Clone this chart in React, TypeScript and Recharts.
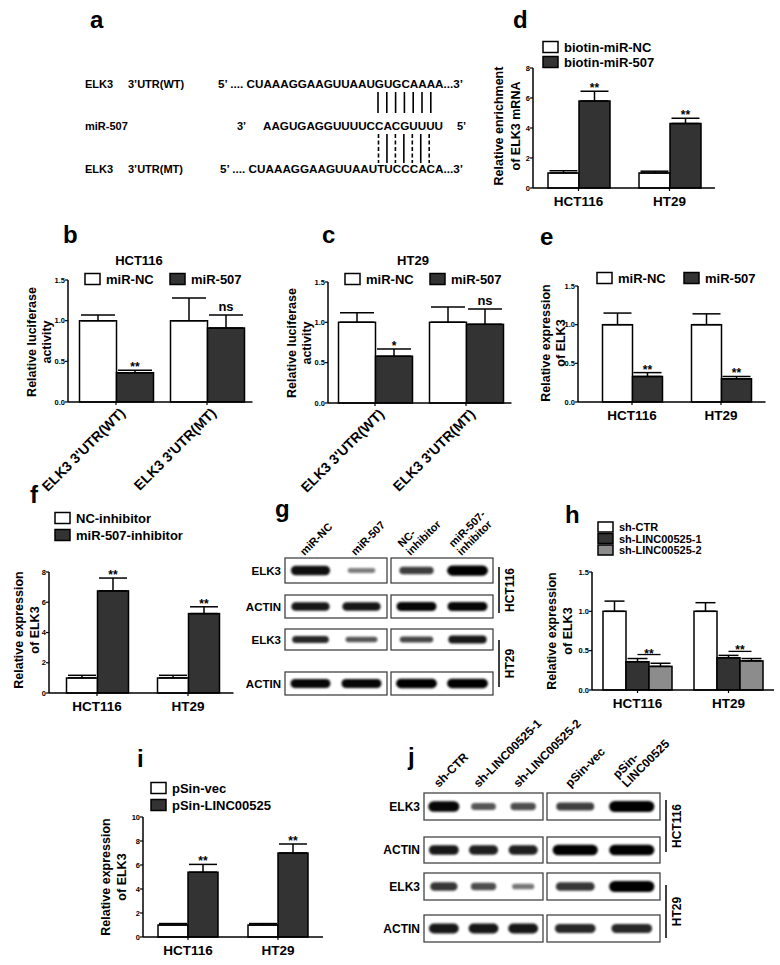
import React from "react";
import { BarChart, Bar, XAxis, YAxis, ErrorBar } from "recharts";

const FONT = "'Liberation Sans', Arial, Helvetica, sans-serif";
const WHITE = "#ffffff";
const DARK = "#333333";
const GREY = "#8c8c8c";

const cellLines = ["HCT116", "HT29"];
const reporters = ["ELK3 3'UTR(WT)", "ELK3 3'UTR(MT)"];

// b: luciferase, HCT116
const lucHctNC = [1.0, 1.0];
const lucHctNCErr = [0.07, 0.28];
const lucHct507 = [0.36, 0.91];
const lucHct507Err = [0.03, 0.16];
const lucHctSig = ["**", "ns"];

// c: luciferase, HT29
const lucHtNC = [1.0, 1.0];
const lucHtNCErr = [0.12, 0.19];
const lucHt507 = [0.58, 0.975];
const lucHt507Err = [0.09, 0.19];
const lucHtSig = ["*", "ns"];

// d: biotin pull-down
const enrichNC = [1.0, 1.0];
const enrichNCErr = [0.15, 0.12];
const enrich507 = [5.8, 4.3];
const enrich507Err = [0.65, 0.35];
const enrichSig = ["**", "**"];

// e: miR-507 mimic
const exprNC = [1.0, 1.0];
const exprNCErr = [0.15, 0.14];
const expr507 = [0.33, 0.3];
const expr507Err = [0.05, 0.03];
const exprSig = ["**", "**"];

// f: inhibitor
const inhNC = [1.0, 1.0];
const inhNCErr = [0.17, 0.17];
const inh507 = [6.75, 5.25];
const inh507Err = [0.85, 0.45];
const inhSig = ["**", "**"];

// h: knockdown
const shCtr = [1.0, 1.0];
const shCtrErr = [0.13, 0.11];
const sh1 = [0.36, 0.41];
const sh1Err = [0.04, 0.03];
const sh2 = [0.3, 0.37];
const sh2Err = [0.04, 0.03];
const shSig = ["**", "**"];

// i: overexpression
const vecVals = [1.0, 1.0];
const vecErr = [0.12, 0.12];
const lincVals = [5.4, 7.0];
const lincErr = [0.65, 0.75];
const lincSig = ["**", "**"];

// blots (relative band strength 0..1)
const gLanes = [["miR-NC"], ["miR-507"], ["NC-", "inhibitor"], ["miR-507-", "inhibitor"]];
const gRows = ["ELK3", "ACTIN", "ELK3", "ACTIN"];
const gBands = [
  [0.9, 0.2, 0.6, 1.0],
  [0.85, 0.85, 0.95, 0.95],
  [0.75, 0.45, 0.55, 0.85],
  [0.95, 0.95, 1.0, 1.0],
];
const jLanes = [["sh-CTR"], ["sh-LINC00525-1"], ["sh-LINC00525-2"], ["pSin-vec"], ["pSin-", "LINC00525"]];
const jRows = ["ELK3", "ACTIN", "ELK3", "ACTIN"];
const jBands = [
  [0.95, 0.45, 0.5, 0.6, 1.0],
  [0.85, 0.8, 0.8, 1.0, 1.0],
  [0.65, 0.5, 0.25, 0.65, 1.0],
  [0.85, 0.85, 0.85, 0.75, 0.75],
];

const build = (cats: string[], vals: number[][], errs: number[][], sig: string[]) =>
  cats.map((cat, i) => {
    const row: any = { cat, sig: sig[i] };
    vals.forEach((v, k) => {
      row["v" + k] = v[i];
      row["e" + k] = [0, errs[k][i]];
    });
    return row;
  });

const dataB = build(reporters, [lucHctNC, lucHct507], [lucHctNCErr, lucHct507Err], lucHctSig);
const dataC = build(reporters, [lucHtNC, lucHt507], [lucHtNCErr, lucHt507Err], lucHtSig);
const dataD = build(cellLines, [enrichNC, enrich507], [enrichNCErr, enrich507Err], enrichSig);
const dataE = build(cellLines, [exprNC, expr507], [exprNCErr, expr507Err], exprSig);
const dataF = build(cellLines, [inhNC, inh507], [inhNCErr, inh507Err], inhSig);
const dataH = build(cellLines, [shCtr, sh1, sh2], [shCtrErr, sh1Err, sh2Err], shSig);
const dataI = build(cellLines, [vecVals, lincVals], [vecErr, lincErr], lincSig);

type PanelProps = {
  data: any[];
  fills: string[];
  x0: number;
  pad: number;
  band: number;
  yTop: number;
  y0: number;
  max: number;
  ticks: number[];
  dec: number;
  barSize: number;
  angled?: boolean;
  bracket?: boolean;
};

const FlatTick = ({ x, y, payload }: any) => (
  <text x={x} y={y + 15} textAnchor="middle" fontSize={13.5} fontWeight="bold" fontFamily={FONT} fill="#000">
    {payload.value}
  </text>
);

const AngledTick = ({ x, y, payload }: any) => (
  <text
    x={x + 10}
    y={y + 9}
    textAnchor="end"
    transform={`rotate(-45, ${x + 10}, ${y + 9})`}
    fontSize={14}
    fontWeight="bold"
    fontFamily={FONT}
    fill="#000"
  >
    {payload.value}
  </text>
);

function BarPanel(p: PanelProps) {
  const yw = 40;
  const mt = 14;
  const mr = 8;
  const xh = p.angled ? 110 : 30;
  const plotH = p.y0 - p.yTop;
  const plotW = p.pad + p.band * p.data.length;
  const last = p.fills.length - 1;

  const sigShape = (props: any) => {
    const { x, y, width, height, payload, fill } = props;
    const val = payload["v" + last];
    const ppu = height / val;
    const base = y + height;
    let mark = null;
    if (p.bracket) {
      const prevTop = payload["v" + (last - 1)] + payload["e" + (last - 1)][1];
      const lastTop = val + payload["e" + last][1];
      const ly = base - Math.max(prevTop, lastTop) * ppu - 4;
      mark = (
        <g>
          <line x1={x - width / 2} x2={x + width / 2} y1={ly} y2={ly} stroke="#000" strokeWidth={1.3} />
          <text x={x} y={ly + 3} textAnchor="middle" fontSize={12} fontWeight="bold" fontFamily={FONT}>
            {payload.sig}
          </text>
        </g>
      );
    } else {
      const topY = base - (val + payload["e" + last][1]) * ppu;
      const isStar = String(payload.sig).includes("*");
      mark = (
        <text
          x={x + width / 2}
          y={isStar ? topY + 1 : topY - 4}
          textAnchor="middle"
          fontSize={isStar ? 12 : 13}
          fontWeight="bold"
          fontFamily={FONT}
        >
          {payload.sig}
        </text>
      );
    }
    return (
      <g>
        <rect x={x} y={y} width={width} height={height} fill={fill} stroke="#000" strokeWidth={1.5} />
        {mark}
      </g>
    );
  };

  return (
    <div style={{ position: "absolute", left: p.x0 - yw, top: p.yTop - mt }}>
      <BarChart
        width={yw + plotW + mr}
        height={mt + plotH + xh}
        data={p.data}
        margin={{ top: mt, right: mr, bottom: 0, left: 0 }}
        barGap={0}
        barSize={p.barSize}
      >
        <XAxis
          dataKey="cat"
          interval={0}
          padding={{ left: p.pad, right: 0 }}
          height={xh}
          tickSize={3}
          tickMargin={0}
          axisLine={{ stroke: "#000", strokeWidth: 1.5 }}
          tickLine={{ stroke: "#000", strokeWidth: 1.2 }}
          tick={p.angled ? <AngledTick /> : <FlatTick />}
        />
        <YAxis
          width={yw}
          domain={[0, p.max]}
          ticks={p.ticks}
          interval={0}
          tickSize={3}
          tickMargin={0}
          axisLine={{ stroke: "#000", strokeWidth: 1.5 }}
          tickLine={{ stroke: "#000", strokeWidth: 1.2 }}
          tick={{ fontSize: 7.5, fontWeight: "bold", fill: "#000", fontFamily: FONT }}
          tickFormatter={(v: number) => v.toFixed(p.dec)}
        />
        {p.fills.map((f, k) => (
          <Bar
            key={k}
            dataKey={"v" + k}
            fill={f}
            stroke="#000"
            strokeWidth={1.5}
            isAnimationActive={false}
            shape={k === last ? sigShape : undefined}
          >
            <ErrorBar
              dataKey={"e" + k}
              width={Math.round(p.barSize * 0.45)}
              stroke="#000"
              strokeWidth={1.5}
              direction="y"
              isAnimationActive={false}
            />
          </Bar>
        ))}
      </BarChart>
    </div>
  );
}

const Letter = ({ x, y, t }: { x: number; y: number; t: string }) => (
  <text x={x} y={y} fontSize={24} fontWeight="bold">
    {t}
  </text>
);

const YTitle = ({ xs, cy, lines }: { xs: number[]; cy: number; lines: string[] }) => (
  <g>
    {lines.map((l, i) => (
      <text
        key={i}
        x={xs[i]}
        y={cy}
        textAnchor="middle"
        dominantBaseline="central"
        transform={`rotate(-90, ${xs[i]}, ${cy})`}
        fontSize={12.5}
        fontWeight="bold"
      >
        {l}
      </text>
    ))}
  </g>
);

const LegendItem = ({ x, y, fill, label, fs = 13, bh = 11 }: any) => (
  <g>
    <rect x={x} y={y - bh / 2} width={15} height={bh} fill={fill} stroke="#000" strokeWidth={1.5} />
    <text x={x + 21} y={y} dominantBaseline="central" fontSize={fs} fontWeight="bold">
      {label}
    </text>
  </g>
);

type BlotProps = {
  boxes: { x: number; w: number; lanes: number }[];
  rows: { y: number; h: number }[];
  rowLabels: string[];
  labelX: number;
  bands: number[][];
  laneLabels: string[][];
  laneFont: number;
  rowFont: number;
  off: [number, number];
  bracketX: number;
  brackets: { y1: number; y2: number; label: string }[];
};

function Blot(p: BlotProps) {
  const lanes: { cx: number; lw: number }[] = [];
  p.boxes.forEach((b) => {
    for (let k = 0; k < b.lanes; k++) lanes.push({ cx: b.x + (b.w * (k + 0.5)) / b.lanes, lw: b.w / b.lanes });
  });
  const top = p.rows[0].y;
  const lh = p.laneFont * 1.05;
  return (
    <g>
      {p.rows.map((r, ri) => (
        <g key={ri}>
          <text x={p.labelX} y={r.y + r.h / 2} textAnchor="end" dominantBaseline="central" fontSize={p.rowFont} fontWeight="bold">
            {p.rowLabels[ri]}
          </text>
          {p.boxes.map((b, bi) => (
            <rect key={bi} x={b.x} y={r.y} width={b.w} height={r.h} fill="#fff" stroke="#444" strokeWidth={1.3} />
          ))}
          {lanes.map((ln, li) => {
            const v = p.bands[ri][li];
            const bw = ln.lw * (0.48 + 0.32 * v);
            const bh = r.h * (0.14 + 0.27 * v);
            return (
              <rect
                key={li}
                x={ln.cx - bw / 2}
                y={r.y + r.h / 2 - bh / 2}
                width={bw}
                height={bh}
                rx={bh / 2}
                fill="#000"
                opacity={0.38 + 0.62 * v}
                filter="url(#blur)"
              />
            );
          })}
        </g>
      ))}
      {lanes.map((ln, li) => {
        const lines = p.laneLabels[li];
        const n = lines.length;
        return lines.map((t, k) => {
          const sh = (n - 1 - k) * lh * 0.707;
          const ax = ln.cx + p.off[0] - sh;
          const ay = top + p.off[1] - sh;
          return (
            <text
              key={li + "-" + k}
              x={ax}
              y={ay}
              transform={`rotate(-45, ${ax}, ${ay})`}
              fontSize={p.laneFont}
              fontWeight="bold"
            >
              {t}
            </text>
          );
        });
      })}
      {p.brackets.map((b, i) => {
        const cy = (b.y1 + b.y2) / 2;
        return (
          <g key={i}>
            <line x1={p.bracketX} x2={p.bracketX} y1={b.y1} y2={b.y2} stroke="#000" strokeWidth={1.5} />
            <text
              x={p.bracketX + 11}
              y={cy}
              textAnchor="middle"
              dominantBaseline="central"
              transform={`rotate(-90, ${p.bracketX + 11}, ${cy})`}
              fontSize={12}
              fontWeight="bold"
            >
              {b.label}
            </text>
          </g>
        );
      })}
    </g>
  );
}

const upperPairs = ["s", "s", "s", "s", "s", "s", "s"];
const lowerPairs = ["d", "s", "d", "s", "d", "s", "d"];

export default function App() {
  return (
    <div style={{ position: "absolute", left: 0, top: 0, width: 780, height: 965, background: "#fff", fontFamily: FONT }}>
      <BarPanel data={dataB} fills={[WHITE, DARK]} x0={68} pad={2.5} band={91} yTop={280} y0={402} max={1.5} ticks={[0, 0.5, 1, 1.5]} dec={1} barSize={37} angled />
      <BarPanel data={dataC} fills={[WHITE, DARK]} x0={328} pad={1.5} band={91} yTop={282} y0={403} max={1.5} ticks={[0, 0.5, 1, 1.5]} dec={1} barSize={37} angled />
      <BarPanel data={dataD} fills={[WHITE, DARK]} x0={533} pad={0} band={91} yTop={68} y0={188} max={8} ticks={[0, 2, 4, 6, 8]} dec={0} barSize={31} />
      <BarPanel data={dataE} fills={[WHITE, DARK]} x0={578} pad={9.5} band={89} yTop={286} y0={402} max={1.5} ticks={[0, 0.5, 1, 1.5]} dec={1} barSize={30} />
      <BarPanel data={dataF} fills={[WHITE, DARK]} x0={49} pad={2.5} band={91} yTop={572} y0={693} max={8} ticks={[0, 2, 4, 6, 8]} dec={0} barSize={31} />
      <BarPanel data={dataH} fills={[WHITE, DARK, GREY]} x0={592} pad={0} band={91} yTop={572} y0={690} max={1.5} ticks={[0, 0.5, 1, 1.5]} dec={1} barSize={23} bracket />
      <BarPanel data={dataI} fills={[WHITE, DARK]} x0={143} pad={0} band={90} yTop={817} y0={937} max={10} ticks={[0, 2, 4, 6, 8, 10]} dec={0} barSize={30} />

      <svg
        width={780}
        height={965}
        style={{ position: "absolute", left: 0, top: 0, pointerEvents: "none" }}
        fontFamily={FONT}
        fill="#000"
      >
        <defs>
          <filter id="blur" x="-20%" y="-60%" width="140%" height="220%">
            <feGaussianBlur stdDeviation="0.8" />
          </filter>
        </defs>

        {/* panel letters */}
        <Letter x={90} y={28} t="a" />
        <Letter x={513} y={28} t="d" />
        <Letter x={63} y={243} t="b" />
        <Letter x={322} y={243} t="c" />
        <Letter x={540} y={245} t="e" />
        <Letter x={30} y={503} t="f" />
        <Letter x={275} y={517} t="g" />
        <Letter x={565} y={523} t="h" />
        <Letter x={137} y={767} t="i" />
        <Letter x={408} y={765} t="j" />

        {/* a: binding site */}
        <g fontSize={11} fontWeight="bold">
          <text x={85} y={88}>ELK3</text>
          <text x={128} y={88}>3’UTR(WT)</text>
          <text x={218} y={88} textLength={245} lengthAdjust="spacingAndGlyphs">
            5’ .... CUAAAGGAAGUUAAUGUGCAAAA...3’
          </text>
          <text x={85} y={130}>miR-507</text>
          <text x={237} y={130}>3’</text>
          <text x={263} y={130} textLength={180} lengthAdjust="spacingAndGlyphs">
            AAGUGAGGUUUUCCACGUUUU
          </text>
          <text x={457} y={130}>5’</text>
          <text x={85} y={173}>ELK3</text>
          <text x={128} y={173}>3’UTR(MT)</text>
          <text x={220} y={173} textLength={243} lengthAdjust="spacingAndGlyphs">
            5’ .... CUAAAGGAAGUUAAUTUCCCACA...3’
          </text>
        </g>
        {upperPairs.map((t, i) => (
          <line key={"u" + i} x1={378 + i * 8.8} x2={378 + i * 8.8} y1={92} y2={113} stroke="#000" strokeWidth={1.6} />
        ))}
        {lowerPairs.map((t, i) => (
          <line
            key={"l" + i}
            x1={378.5 + i * 8.45}
            x2={378.5 + i * 8.45}
            y1={134}
            y2={163}
            stroke="#000"
            strokeWidth={1.6}
            strokeDasharray={t === "d" ? "4 2.5" : undefined}
          />
        ))}

        {/* b */}
        <text x={139} y={265} textAnchor="middle" fontSize={13} fontWeight="bold">HCT116</text>
        <LegendItem x={85} y={279} fill={WHITE} label="miR-NC" />
        <LegendItem x={170} y={279} fill={DARK} label="miR-507" />
        <YTitle xs={[32, 47]} cy={342} lines={["Relative luciferase", "activity"]} />

        {/* c */}
        <text x={413} y={265} textAnchor="middle" fontSize={13} fontWeight="bold">HT29</text>
        <LegendItem x={345} y={279} fill={WHITE} label="miR-NC" />
        <LegendItem x={430} y={279} fill={DARK} label="miR-507" />
        <YTitle xs={[292, 307]} cy={343} lines={["Relative luciferase", "activity"]} />

        {/* d */}
        <LegendItem x={543} y={47} fill={WHITE} label="biotin-miR-NC" />
        <LegendItem x={543} y={62} fill={DARK} label="biotin-miR-507" />
        <YTitle xs={[499, 516]} cy={126} lines={["Relative enrichment", "of ELK3 mRNA"]} />

        {/* e */}
        <LegendItem x={597} y={278} fill={WHITE} label="miR-NC" />
        <LegendItem x={684} y={278} fill={DARK} label="miR-507" />
        <YTitle xs={[546, 561]} cy={343} lines={["Relative expression", "of ELK3"]} />

        {/* f */}
        <LegendItem x={55} y={518} fill={WHITE} label="NC-inhibitor" />
        <LegendItem x={55} y={535} fill={DARK} label="miR-507-inhibitor" />
        <YTitle xs={[19, 35]} cy={630} lines={["Relative expression", "of ELK3"]} />

        {/* h */}
        <LegendItem x={598} y={527} fill={WHITE} label="sh-CTR" fs={11} bh={10} />
        <LegendItem x={598} y={538.5} fill={DARK} label="sh-LINC00525-1" fs={11} bh={10} />
        <LegendItem x={598} y={550} fill={GREY} label="sh-LINC00525-2" fs={11} bh={10} />
        <YTitle xs={[552, 568]} cy={631} lines={["Relative expression", "of ELK3"]} />

        {/* i */}
        <LegendItem x={151} y={788} fill={WHITE} label="pSin-vec" />
        <LegendItem x={151} y={805} fill={DARK} label="pSin-LINC00525" />
        <YTitle xs={[106, 122]} cy={877} lines={["Relative expression", "of ELK3"]} />

        {/* g */}
        <Blot
          boxes={[{ x: 285, w: 102, lanes: 2 }, { x: 391, w: 102, lanes: 2 }]}
          rows={[{ y: 558, h: 25 }, { y: 595, h: 23 }, { y: 629, h: 21 }, { y: 672, h: 23 }]}
          rowLabels={gRows}
          labelX={281}
          bands={gBands}
          laneLabels={gLanes}
          laneFont={11}
          rowFont={11.5}
          off={[-6, -2]}
          bracketX={499}
          brackets={[{ y1: 567, y2: 613, label: "HCT116" }, { y1: 640, y2: 687, label: "HT29" }]}
        />

        {/* j */}
        <Blot
          boxes={[{ x: 424, w: 119, lanes: 3 }, { x: 547, w: 113, lanes: 2 }]}
          rows={[{ y: 793, h: 27 }, { y: 837, h: 26 }, { y: 873, h: 27 }, { y: 915, h: 27 }]}
          rowLabels={jRows}
          labelX={420}
          bands={jBands}
          laneLabels={jLanes}
          laneFont={12}
          rowFont={12}
          off={[-5, -5]}
          bracketX={666}
          brackets={[{ y1: 800, y2: 852, label: "HCT116" }, { y1: 885, y2: 938, label: "HT29" }]}
        />
      </svg>
    </div>
  );
}
